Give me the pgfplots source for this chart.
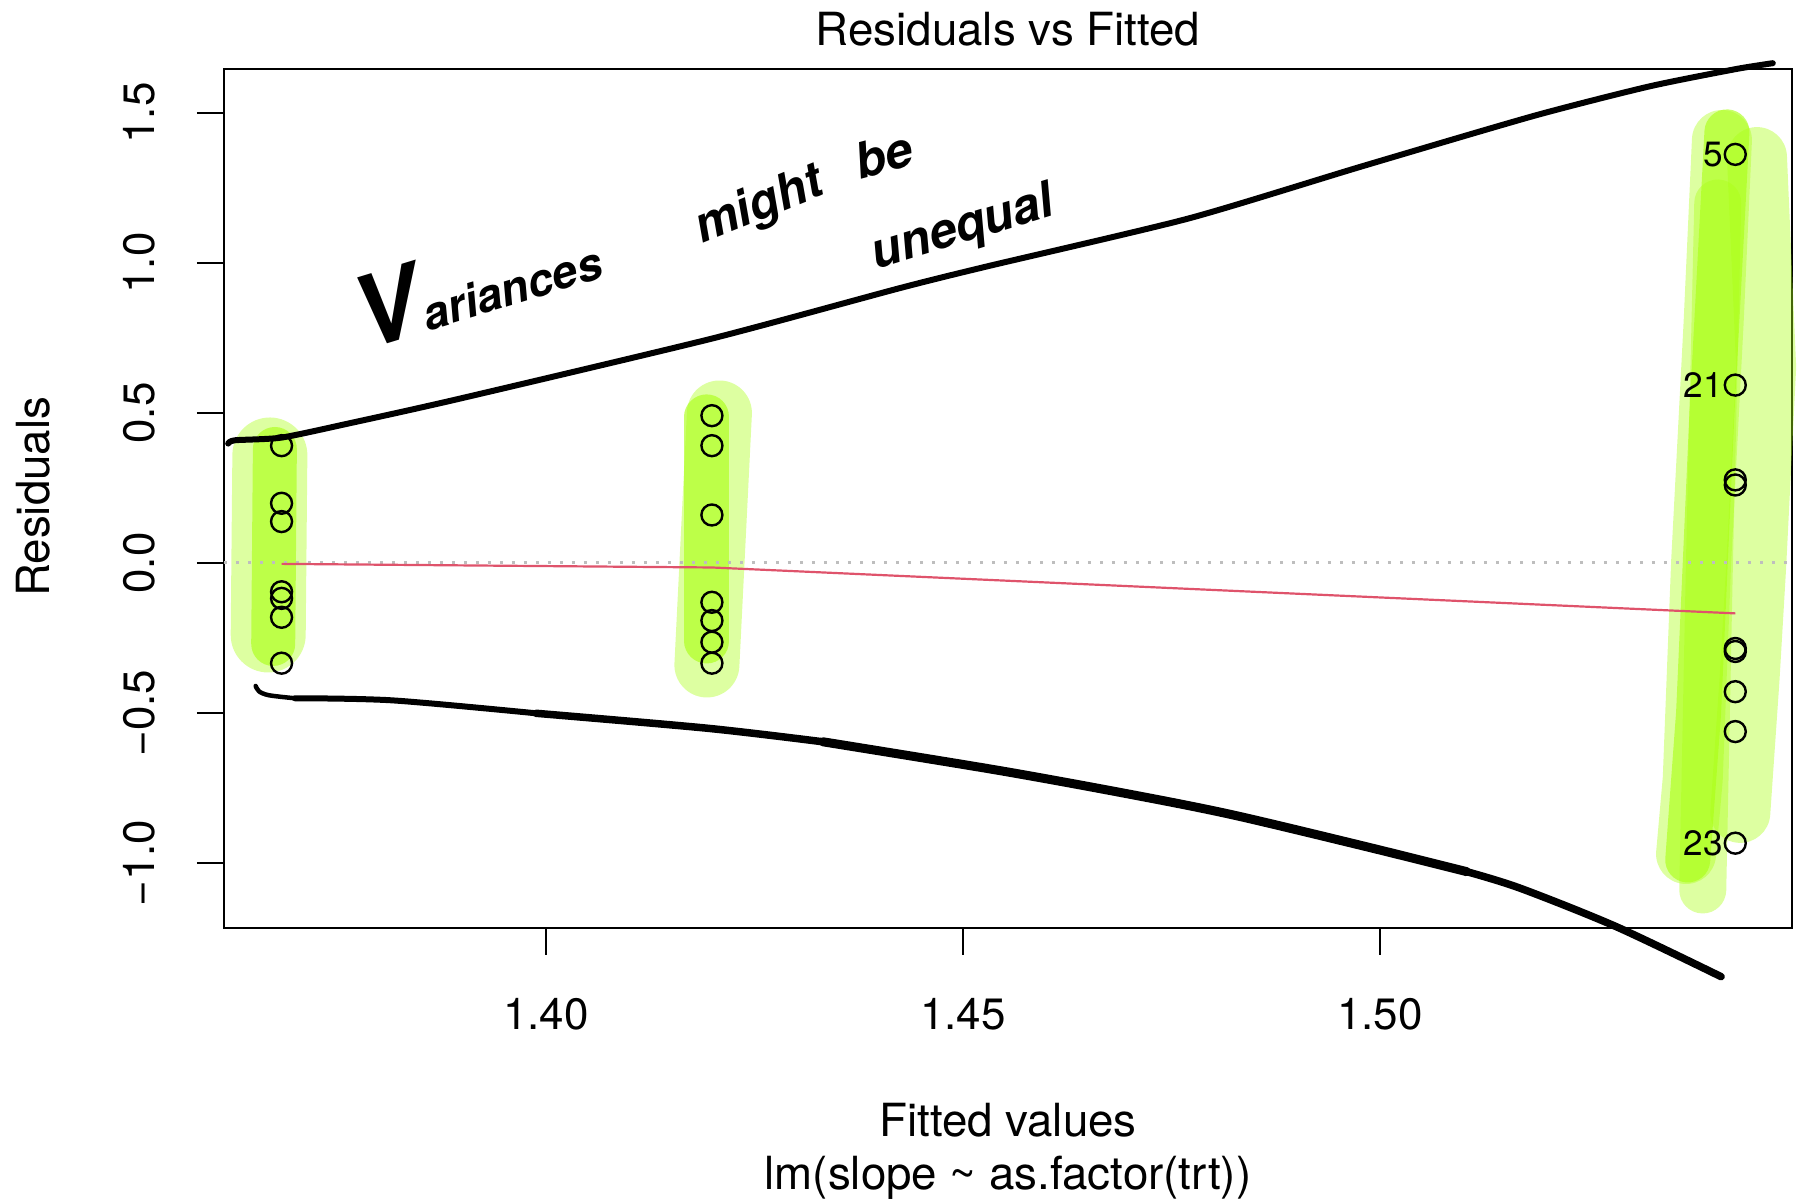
\documentclass[border=0pt]{standalone}
\usepackage{pgfplots}
\pgfplotsset{compat=1.18}
\usepackage{fontspec}
\setmainfont{TeX Gyre Heros}

\definecolor{rred}{HTML}{DF536B}
\definecolor{rgray}{RGB}{190,190,190}
\definecolor{hl}{RGB}{170,255,20}

\begin{document}
\begin{tikzpicture}[font=\fontsize{13}{15}\selectfont]
\begin{axis}[
    name=ax,
    scale only axis,
    width=156.8mm, height=85.9mm,
    xmin=1.3614, xmax=1.5494,
    ymin=-1.2167, ymax=1.6467,
    clip=false,
    axis line style={line width=0.2mm},
    tick style={line width=0.2mm, black},
    major tick length=2.7mm,
    tick align=outside,
    xtick pos=left, ytick pos=left,
    xtick={1.40,1.45,1.50},
    xticklabels={1.40,1.45,1.50},
    ytick={-1,-0.5,0,0.5,1,1.5},
    yticklabels={−1.0,−0.5,0.0,0.5,1.0,1.5},
    tick label style={font=\fontsize{12.5}{14}\selectfont},
    xticklabel style={anchor=base, yshift=-7.5mm},
    yticklabel style={xshift=-4.2mm, rotate=90, anchor=base},
    title={Residuals vs Fitted},
    title style={at={(axis description cs:0.5,1.0279)}, anchor=base, yshift=-6pt, inner sep=0pt},
    xlabel={Fitted values},
    xlabel style={at={(axis description cs:0.5,-0.2433)}, anchor=base, inner sep=0pt},
    ylabel={Residuals},
    ylabel style={at={(axis description cs:-0.111,0.502)}, anchor=base, inner sep=0pt},
]

% highlighter strokes (pale first, then the brighter cores)
\addplot[hl, opacity=0.4, line width=7.5mm, line cap=round, forget plot]
    coordinates {(1.3669,0.36) (1.3667,-0.24)};
\addplot[hl, opacity=0.4, line width=6.5mm, line cap=round, forget plot]
    coordinates {(1.4208,0.50) (1.4193,-0.34)};
\addplot[hl, opacity=0.4, line width=6mm, line cap=round, line join=round, forget plot]
    coordinates {(1.5452,1.353) (1.5463,0.653) (1.5451,-0.013) (1.5443,-0.39) (1.5432,-0.833)};
\addplot[hl, opacity=0.4, line width=6mm, line cap=round, line join=round, forget plot]
    coordinates {(1.5410,1.41) (1.5400,0.80) (1.5385,0.0) (1.5375,-0.72) (1.5367,-0.97)};
\addplot[hl, opacity=0.4, line width=4.7mm, line cap=round, line join=round, forget plot]
    coordinates {(1.5405,1.2) (1.5395,0.0) (1.5387,-1.09)};
\addplot[hl, opacity=0.63, line width=4.4mm, line cap=round, forget plot]
    coordinates {(1.3675,0.38) (1.3673,-0.27)};
\addplot[hl, opacity=0.63, line width=4.5mm, line cap=round, forget plot]
    coordinates {(1.4193,0.487) (1.4193,-0.26)};
\addplot[hl, opacity=0.63, line width=4.5mm, line cap=round, line join=round, forget plot]
    coordinates {(1.5416,1.437) (1.5398,0.5) (1.5382,-0.5) (1.5369,-0.99)};

% zero reference line
\addplot[rgray, line width=0.3mm, dash pattern=on 0.3mm off 0.9mm, forget plot]
    coordinates {(1.3614,0) (1.5494,0)};

% smoother
\addplot[rred, line width=0.22mm, forget plot]
    coordinates {(1.3683,-0.003) (1.4199,-0.015) (1.5426,-0.168)};

% residuals
\addplot[only marks, mark=o, mark size=1.05mm, mark options={line width=0.24mm, black}]
    coordinates {
    (1.3683,0.391) (1.3683,0.199) (1.3683,0.138) (1.3683,-0.096)
    (1.3683,-0.118) (1.3683,-0.181) (1.3683,-0.334)
    (1.4199,0.491) (1.4199,0.391) (1.4199,0.160) (1.4199,-0.131)
    (1.4199,-0.192) (1.4199,-0.264) (1.4199,-0.334)
    (1.5426,1.362) (1.5426,0.593) (1.5426,0.277) (1.5426,0.260)
    (1.5426,-0.285) (1.5426,-0.295) (1.5426,-0.429) (1.5426,-0.562)
    (1.5426,-0.934)
    };

% labels of the largest residuals
\addplot[draw=none, nodes near coords, point meta=explicit symbolic,
    nodes near coords style={anchor=east, inner sep=0pt, xshift=-1.2mm,
        font=\fontsize{10}{12}\selectfont}]
    coordinates {(1.5426,1.362)[5] (1.5426,0.593)[21] (1.5426,-0.934)[23]};

% hand-drawn envelope
\addplot[black, line width=0.6mm, line cap=round, line join=round, smooth, tension=0.4]
    coordinates {
    (1.3619,0.398) (1.3627,0.409) (1.3683,0.418) (1.3765,0.466)
    (1.3897,0.548) (1.4199,0.748) (1.4424,0.916) (1.4528,0.988)
    (1.4770,1.148) (1.4977,1.321) (1.5184,1.490) (1.5322,1.588)
    (1.5426,1.646) (1.5471,1.666)
    };
\addplot[black, line width=0.45mm, line cap=round, line join=round, smooth, tension=0.5]
    coordinates {(1.3652,-0.410) (1.3656,-0.428) (1.3668,-0.441) (1.3699,-0.451)};
\addplot[black, line width=0.6mm, line cap=round, line join=round, smooth, tension=0.5]
    coordinates {(1.3699,-0.451) (1.3816,-0.458) (1.3988,-0.501)};
\addplot[black, line width=0.75mm, line cap=round, line join=round, smooth, tension=0.5]
    coordinates {(1.3988,-0.501) (1.4194,-0.551) (1.4332,-0.596)};
\addplot[black, line width=0.9mm, line cap=round, line join=round, smooth, tension=0.5]
    coordinates {(1.4332,-0.596) (1.4544,-0.692) (1.4704,-0.773) (1.4824,-0.840)
    (1.4984,-0.946) (1.5104,-1.029)};
\addplot[black, line width=0.75mm, line cap=round, line join=round, smooth, tension=0.5]
    coordinates {(1.5104,-1.029) (1.5168,-1.084) (1.5283,-1.212) (1.5409,-1.379)};

% handwriting
\node[rotate=17, font=\fontsize{13}{15}\selectfont\bfseries\itshape, inner sep=0pt]
    at (axis cs:1.3915,0.945) {{\fontsize{28}{28}\selectfont V}ariances};
\node[rotate=22, font=\fontsize{14}{16}\selectfont\bfseries\itshape, inner sep=0pt]
    at (axis cs:1.4256,1.187) {might};
\node[rotate=15, font=\fontsize{14}{16}\selectfont\bfseries\itshape, inner sep=0pt]
    at (axis cs:1.4405,1.360) {be};
\node[rotate=17, font=\fontsize{14}{16}\selectfont\bfseries\itshape, inner sep=0pt]
    at (axis cs:1.4500,1.110) {unequal};

% second line of the x label
\node[anchor=base, inner sep=0pt] at (axis description cs:0.5,-0.305)
    {lm(slope \textasciitilde{} as.factor(trt))};
\end{axis}
\pgfresetboundingbox
\path ([xshift=-22.4mm, yshift=-27.4mm]ax.south west)
    rectangle ([xshift=1.1mm, yshift=6.9mm]ax.north east);
\end{tikzpicture}
\end{document}
